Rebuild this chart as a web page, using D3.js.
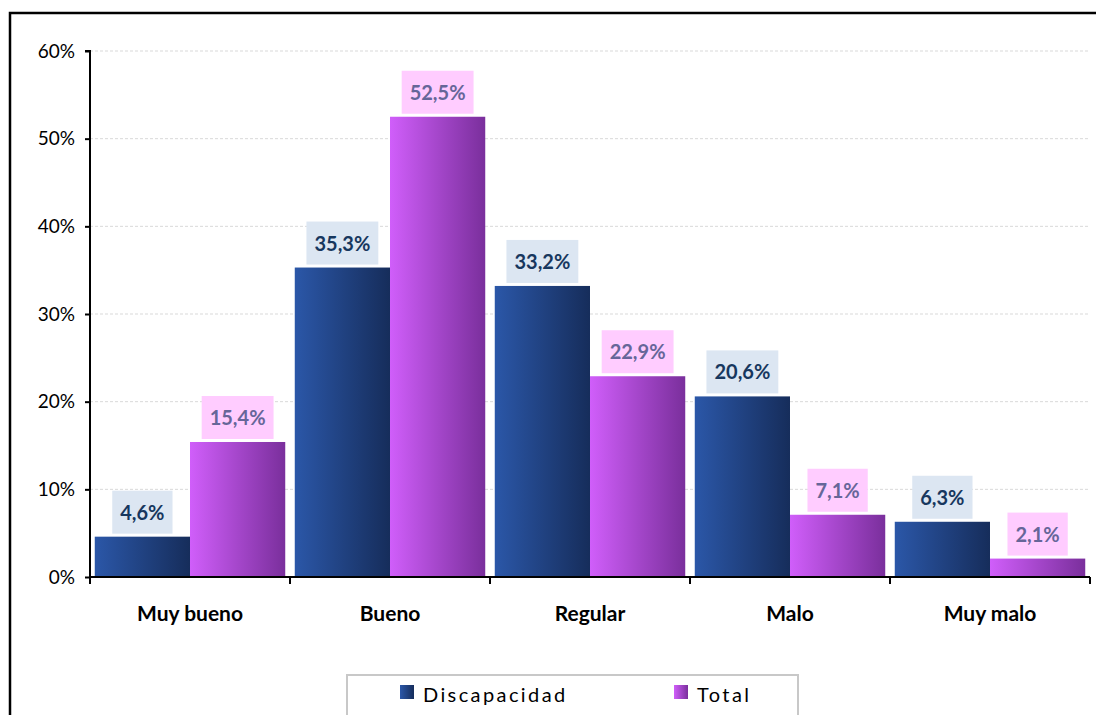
<!DOCTYPE html>
<html>
<head>
<meta charset="utf-8">
<script src="https://cdn.jsdelivr.net/npm/d3@7/dist/d3.min.js"></script>
<style>
  html, body { margin: 0; padding: 0; background: #fff; }
  svg { display: block; font-family: Lato, "Open Sans", sans-serif; }
</style>
</head>
<body>
<svg id="chart" width="1096" height="715"></svg>
<script>
const categories = ["Muy bueno", "Bueno", "Regular", "Malo", "Muy malo"];
const seriesNames = ["Discapacidad", "Total"];
const discapacidad = [4.6, 35.3, 33.2, 20.6, 6.3];
const total = [15.4, 52.5, 22.9, 7.1, 2.1];
const yTicks = [0, 10, 20, 30, 40, 50, 60];

(function () {
const svg = d3.select("#chart");
const W = 1096, H = 715;
const pLeft = 90, pRight = 1090, pTop = 51, pBottom = 577;

// outer frame
svg.append("rect").attr("x", 10).attr("y", 13).attr("width", W + 20).attr("height", H + 20)
  .attr("fill", "#fff").attr("stroke", "#000").attr("stroke-width", 2.5);

const defs = svg.append("defs");
function grad(id, c1, c2) {
  const g = defs.append("linearGradient").attr("id", id).attr("x1", "0").attr("x2", "1").attr("y1", "0").attr("y2", "0");
  g.append("stop").attr("offset", "0%").attr("stop-color", c1);
  g.append("stop").attr("offset", "100%").attr("stop-color", c2);
}
grad("gDisc", "#2B57A8", "#162D5B");
grad("gTot", "#D05EFA", "#7A2F9C");

const x = d3.scaleBand().domain(categories).range([pLeft, pRight]).paddingInner(0).paddingOuter(0);
const xs = d3.scaleBand().domain(seriesNames).range([0, x.bandwidth()]).paddingOuter(0.05).paddingInner(0);
const y = d3.scaleLinear().domain([0, 60]).range([pBottom, pTop]);

// gridlines
svg.append("g").selectAll("line").data(yTicks.filter(d => d > 0)).join("line")
  .attr("x1", pLeft).attr("x2", pRight)
  .attr("y1", d => y(d)).attr("y2", d => y(d))
  .attr("stroke", "#d9d9d9").attr("stroke-width", 1).attr("stroke-dasharray", "3,2");

const series = [
  { name: "Discapacidad", values: discapacidad, fill: "url(#gDisc)", labelBg: "#DCE6F2", labelColor: "#17375E" },
  { name: "Total", values: total, fill: "url(#gTot)", labelBg: "#FFCCFF", labelColor: "#666699" }
];

series.forEach(s => {
  const g = svg.append("g");
  g.selectAll("rect").data(categories).join("rect")
    .attr("x", (c) => x(c) + xs(s.name))
    .attr("width", xs.bandwidth())
    .attr("y", (c, i) => y(s.values[i]))
    .attr("height", (c, i) => y(0) - y(s.values[i]))
    .attr("fill", s.fill);
});

// data labels
series.forEach(s => {
  const g = svg.append("g");
  categories.forEach((c, i) => {
    const cx = x(c) + xs(s.name) + xs.bandwidth() / 2;
    const by = y(s.values[i]);
    const txt = s.values[i].toFixed(1).replace(".", ",") + "%";
    const lg = g.append("g");
    const t = lg.append("text").attr("x", cx).attr("y", by - 17)
      .attr("text-anchor", "middle").attr("font-size", 20).attr("font-weight", "bold")
      .attr("fill", s.labelColor).text(txt);
    const bb = t.node().getBBox();
    lg.insert("rect", "text")
      .attr("x", cx - bb.width / 2 - 8).attr("width", bb.width + 16)
      .attr("y", by - 46).attr("height", 43)
      .attr("fill", s.labelBg);
  });
});

// y axis
const yAxis = d3.axisLeft(y).tickValues(yTicks).tickFormat(d => d + "%").tickSize(5).tickPadding(10);
const ya = svg.append("g").attr("transform", `translate(${pLeft},0)`).call(yAxis);
ya.select(".domain").attr("stroke", "#000").attr("stroke-width", 2).attr("d", `M-5,${pTop}H0V${pBottom}`);
ya.selectAll(".tick line").attr("stroke", "#000").attr("stroke-width", 2);
ya.selectAll(".tick text").attr("font-size", 19).attr("fill", "#000").attr("font-family", "Lato, sans-serif");

// x axis
const xa = svg.append("g").attr("transform", `translate(0,${pBottom})`);
xa.append("line").attr("x1", pLeft).attr("x2", pRight).attr("y1", 0).attr("y2", 0)
  .attr("stroke", "#000").attr("stroke-width", 2);
const bounds = categories.map(c => x(c)).concat([x(categories[categories.length - 1]) + x.bandwidth()]);
xa.selectAll(".tk").data(bounds).join("line").attr("class", "tk")
  .attr("x1", d => d).attr("x2", d => d).attr("y1", 0).attr("y2", 7)
  .attr("stroke", "#000").attr("stroke-width", 2);
xa.selectAll(".cl").data(categories).join("text").attr("class", "cl")
  .attr("x", d => x(d) + x.bandwidth() / 2).attr("y", 44)
  .attr("text-anchor", "middle").attr("font-size", 21).attr("font-weight", "bold")
  .attr("fill", "#000").text(d => d);

// legend
const lgd = svg.append("g");
lgd.append("rect").attr("x", 347).attr("y", 675).attr("width", 451).attr("height", 60)
  .attr("fill", "#fff").attr("stroke", "#c8c8c8").attr("stroke-width", 2);
const legendItems = [
  { name: seriesNames[0], fill: "url(#gDisc)", x: 400 },
  { name: seriesNames[1], fill: "url(#gTot)", x: 674 }
];
legendItems.forEach(it => {
  lgd.append("rect").attr("x", it.x).attr("y", 685).attr("width", 14).attr("height", 14).attr("fill", it.fill);
  lgd.append("text").attr("x", it.x + 23).attr("y", 702).attr("font-size", 20)
    .attr("letter-spacing", 2.4).attr("fill", "#000").text(it.name);
});
})();
</script>
</body>
</html>
